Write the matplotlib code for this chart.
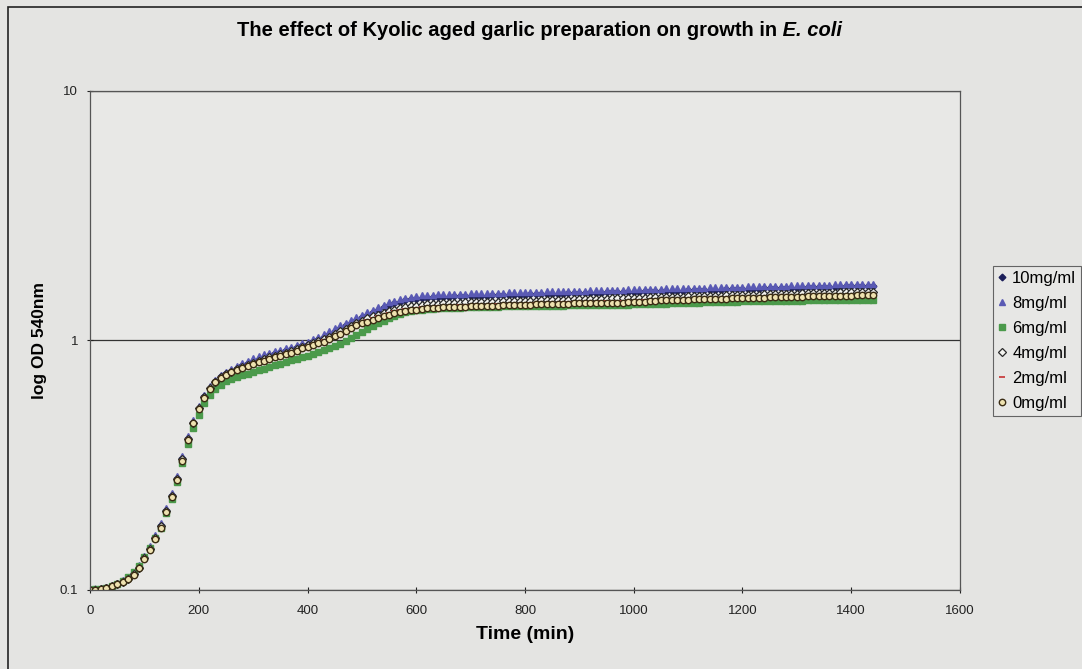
import matplotlib
matplotlib.use("Agg")
import matplotlib.pyplot as plt
from matplotlib.patches import Rectangle
import numpy as np

plt.rcParams['font.family'] = ['Liberation Sans', 'DejaVu Sans']

# sampling time (min), one reading every 10 min
time_min = list(range(0, 1450, 10))

od_10 = [0.100, 0.101, 0.101, 0.102, 0.104, 0.106, 0.109, 0.112, 0.117, 0.124,
         0.135, 0.148, 0.163, 0.182, 0.209, 0.240, 0.281, 0.338, 0.408, 0.472,
         0.538, 0.598, 0.648, 0.688, 0.718, 0.740, 0.758, 0.776, 0.794, 0.812,
         0.830, 0.845, 0.860, 0.875, 0.888, 0.900, 0.914, 0.928, 0.942, 0.957,
         0.972, 0.990, 1.010, 1.035, 1.062, 1.090, 1.120, 1.150, 1.180, 1.210,
         1.240, 1.270, 1.300, 1.330, 1.360, 1.390, 1.410, 1.430, 1.448, 1.462,
         1.472, 1.480, 1.486, 1.490, 1.494, 1.497, 1.500, 1.502, 1.504, 1.506,
         1.508, 1.510, 1.512, 1.514, 1.516, 1.518, 1.520, 1.522, 1.524, 1.526,
         1.528, 1.530, 1.532, 1.534, 1.536, 1.538, 1.540, 1.542, 1.544, 1.546,
         1.548, 1.550, 1.552, 1.554, 1.556, 1.558, 1.560, 1.562, 1.564, 1.566,
         1.568, 1.570, 1.572, 1.574, 1.576, 1.578, 1.580, 1.582, 1.584, 1.586,
         1.588, 1.590, 1.592, 1.594, 1.596, 1.598, 1.600, 1.602, 1.604, 1.606,
         1.608, 1.610, 1.612, 1.614, 1.616, 1.618, 1.620, 1.622, 1.624, 1.626,
         1.628, 1.630, 1.632, 1.634, 1.636, 1.638, 1.640, 1.642, 1.644, 1.646,
         1.648, 1.650, 1.652, 1.654, 1.656]

od_8 = [0.101, 0.101, 0.102, 0.103, 0.105, 0.107, 0.110, 0.113, 0.118, 0.126,
        0.137, 0.150, 0.166, 0.186, 0.213, 0.245, 0.287, 0.345, 0.415, 0.480,
        0.545, 0.605, 0.655, 0.695, 0.725, 0.750, 0.770, 0.790, 0.810, 0.830,
        0.850, 0.865, 0.880, 0.895, 0.905, 0.915, 0.930, 0.945, 0.960, 0.975,
        0.990, 1.010, 1.030, 1.060, 1.090, 1.120, 1.150, 1.180, 1.210, 1.240,
        1.270, 1.300, 1.330, 1.360, 1.390, 1.420, 1.440, 1.460, 1.480, 1.495,
        1.505, 1.515, 1.520, 1.525, 1.530, 1.533, 1.536, 1.538, 1.540, 1.542,
        1.544, 1.546, 1.548, 1.550, 1.552, 1.554, 1.556, 1.558, 1.560, 1.562,
        1.564, 1.566, 1.568, 1.570, 1.572, 1.574, 1.576, 1.578, 1.580, 1.582,
        1.584, 1.586, 1.588, 1.590, 1.592, 1.594, 1.596, 1.598, 1.600, 1.602,
        1.604, 1.606, 1.608, 1.610, 1.612, 1.614, 1.616, 1.618, 1.620, 1.622,
        1.624, 1.626, 1.628, 1.630, 1.632, 1.634, 1.636, 1.638, 1.640, 1.642,
        1.644, 1.646, 1.648, 1.650, 1.652, 1.654, 1.656, 1.658, 1.660, 1.662,
        1.664, 1.666, 1.668, 1.670, 1.672, 1.674, 1.676, 1.678, 1.680, 1.682,
        1.684, 1.686, 1.688, 1.690, 1.692]

od_6 = [0.100, 0.101, 0.101, 0.102, 0.104, 0.106, 0.109, 0.113, 0.118, 0.125,
        0.135, 0.147, 0.161, 0.178, 0.203, 0.232, 0.270, 0.322, 0.385, 0.445,
        0.505, 0.560, 0.605, 0.640, 0.665, 0.685, 0.700, 0.712, 0.724, 0.736,
        0.748, 0.760, 0.772, 0.784, 0.796, 0.808, 0.820, 0.832, 0.845, 0.858,
        0.870, 0.885, 0.900, 0.915, 0.930, 0.950, 0.970, 0.995, 1.020, 1.050,
        1.080, 1.110, 1.140, 1.170, 1.200, 1.230, 1.255, 1.275, 1.295, 1.310,
        1.320, 1.328, 1.335, 1.340, 1.345, 1.348, 1.350, 1.352, 1.354, 1.356,
        1.358, 1.360, 1.362, 1.364, 1.366, 1.368, 1.370, 1.371, 1.372, 1.373,
        1.374, 1.375, 1.376, 1.377, 1.378, 1.379, 1.380, 1.381, 1.382, 1.383,
        1.384, 1.385, 1.386, 1.387, 1.388, 1.389, 1.390, 1.391, 1.392, 1.393,
        1.394, 1.396, 1.398, 1.400, 1.402, 1.404, 1.406, 1.408, 1.410, 1.412,
        1.414, 1.416, 1.418, 1.420, 1.422, 1.424, 1.426, 1.428, 1.430, 1.432,
        1.434, 1.436, 1.437, 1.438, 1.439, 1.440, 1.441, 1.442, 1.443, 1.444,
        1.445, 1.446, 1.447, 1.448, 1.449, 1.450, 1.451, 1.452, 1.453, 1.454,
        1.455, 1.456, 1.457, 1.458, 1.459]

od_4 = [0.100, 0.100, 0.101, 0.102, 0.104, 0.106, 0.108, 0.111, 0.116, 0.123,
        0.134, 0.146, 0.162, 0.180, 0.207, 0.238, 0.278, 0.334, 0.404, 0.468,
        0.534, 0.594, 0.644, 0.684, 0.714, 0.735, 0.750, 0.766, 0.782, 0.798,
        0.814, 0.829, 0.842, 0.856, 0.868, 0.882, 0.895, 0.910, 0.925, 0.942,
        0.958, 0.975, 0.992, 1.010, 1.035, 1.062, 1.088, 1.115, 1.145, 1.175,
        1.200, 1.225, 1.248, 1.270, 1.292, 1.312, 1.330, 1.345, 1.358, 1.370,
        1.380, 1.388, 1.394, 1.400, 1.404, 1.408, 1.411, 1.414, 1.417, 1.420,
        1.422, 1.424, 1.426, 1.428, 1.430, 1.432, 1.434, 1.436, 1.438, 1.440,
        1.442, 1.444, 1.446, 1.448, 1.450, 1.452, 1.454, 1.456, 1.458, 1.460,
        1.462, 1.464, 1.466, 1.468, 1.470, 1.472, 1.474, 1.476, 1.478, 1.480,
        1.482, 1.484, 1.486, 1.488, 1.490, 1.492, 1.494, 1.496, 1.498, 1.500,
        1.502, 1.504, 1.506, 1.508, 1.510, 1.512, 1.514, 1.516, 1.518, 1.520,
        1.522, 1.524, 1.526, 1.528, 1.530, 1.532, 1.534, 1.536, 1.538, 1.540,
        1.542, 1.544, 1.546, 1.548, 1.550, 1.552, 1.554, 1.556, 1.558, 1.560,
        1.562, 1.564, 1.566, 1.568, 1.570]

od_2 = [0.100, 0.100, 0.101, 0.102, 0.104, 0.106, 0.108, 0.112, 0.116, 0.123,
        0.134, 0.146, 0.161, 0.179, 0.206, 0.236, 0.276, 0.332, 0.402, 0.466,
        0.532, 0.592, 0.642, 0.682, 0.712, 0.732, 0.748, 0.763, 0.778, 0.794,
        0.810, 0.824, 0.836, 0.850, 0.862, 0.876, 0.888, 0.902, 0.918, 0.936,
        0.952, 0.968, 0.984, 1.000, 1.022, 1.050, 1.074, 1.102, 1.132, 1.162,
        1.185, 1.208, 1.230, 1.250, 1.270, 1.290, 1.308, 1.320, 1.332, 1.342,
        1.350, 1.358, 1.364, 1.368, 1.372, 1.375, 1.378, 1.380, 1.382, 1.384,
        1.386, 1.388, 1.390, 1.392, 1.394, 1.396, 1.398, 1.400, 1.402, 1.404,
        1.406, 1.408, 1.410, 1.412, 1.414, 1.416, 1.418, 1.420, 1.422, 1.424,
        1.426, 1.428, 1.430, 1.432, 1.434, 1.436, 1.438, 1.440, 1.442, 1.444,
        1.446, 1.448, 1.450, 1.452, 1.454, 1.456, 1.458, 1.460, 1.462, 1.464,
        1.466, 1.468, 1.470, 1.472, 1.474, 1.476, 1.478, 1.480, 1.482, 1.484,
        1.486, 1.488, 1.490, 1.492, 1.494, 1.496, 1.498, 1.500, 1.502, 1.504,
        1.506, 1.508, 1.510, 1.512, 1.514, 1.516, 1.518, 1.520, 1.522, 1.524,
        1.526, 1.528, 1.530, 1.532, 1.534]

od_0 = [0.100, 0.100, 0.101, 0.102, 0.104, 0.106, 0.108, 0.111, 0.115, 0.122,
        0.133, 0.145, 0.160, 0.178, 0.205, 0.235, 0.275, 0.330, 0.400, 0.465,
        0.530, 0.590, 0.640, 0.680, 0.710, 0.730, 0.745, 0.760, 0.775, 0.790,
        0.805, 0.820, 0.830, 0.845, 0.855, 0.870, 0.880, 0.895, 0.910, 0.930,
        0.945, 0.960, 0.975, 0.990, 1.010, 1.040, 1.060, 1.090, 1.120, 1.150,
        1.170, 1.190, 1.210, 1.230, 1.250, 1.270, 1.290, 1.300, 1.310, 1.320,
        1.330, 1.340, 1.345, 1.350, 1.355, 1.358, 1.360, 1.362, 1.365, 1.368,
        1.370, 1.372, 1.374, 1.376, 1.378, 1.380, 1.382, 1.384, 1.386, 1.388,
        1.390, 1.392, 1.394, 1.396, 1.398, 1.400, 1.402, 1.404, 1.406, 1.408,
        1.410, 1.412, 1.413, 1.414, 1.415, 1.416, 1.417, 1.418, 1.419, 1.420,
        1.422, 1.424, 1.426, 1.440, 1.445, 1.448, 1.450, 1.452, 1.454, 1.456,
        1.458, 1.460, 1.462, 1.464, 1.466, 1.468, 1.470, 1.472, 1.474, 1.476,
        1.478, 1.480, 1.482, 1.484, 1.486, 1.488, 1.490, 1.492, 1.494, 1.496,
        1.498, 1.500, 1.502, 1.504, 1.506, 1.508, 1.510, 1.511, 1.512, 1.513,
        1.514, 1.515, 1.516, 1.517, 1.518]

labels = ['10mg/ml', '8mg/ml', '6mg/ml', '4mg/ml', '2mg/ml', '0mg/ml']
x_ticks = [0, 200, 400, 600, 800, 1000, 1200, 1400, 1600]
y_ticks = [0.1, 1, 10]
y_ticklabels = ['0.1', '1', '10']

fig = plt.figure(figsize=(10.82, 6.69), dpi=100)
fig.patch.set_facecolor('#e4e4e2')
ax = fig.add_axes([0.0832, 0.1181, 0.8040, 0.7459])
ax.set_facecolor('#e8e8e6')

# Excel style markers, no connecting lines
styles = [
    dict(marker='D', ms=3.4, mfc='#1c1f5a', mec='#1c1f5a'),
    dict(marker='^', ms=5.0, mfc='#5a5ab4', mec='#5a5ab4'),
    dict(marker='s', ms=4.2, mfc='#4b9a4b', mec='#4b9a4b'),
    dict(marker='D', ms=3.6, mfc='#f4f4f0', mec='#2a2a2a', mew=0.9),
    dict(marker='_', ms=4.5, mfc='#c84040', mec='#c84040', mew=1.3),
    dict(marker='o', ms=4.6, mfc='#eee2b0', mec='#3a2c14', mew=1.0),
]
series = [od_10, od_8, od_6, od_4, od_2, od_0]
for vals, lab, st in zip(series, labels, styles):
    ax.plot(time_min, vals, linestyle='none', label=lab, **st)

ax.set_yscale('log')
ax.set_xlim(0, 1600)
ax.set_ylim(0.1, 10)
ax.set_xticks(x_ticks)
ax.set_xticklabels([str(t) for t in x_ticks], fontsize=9.5)
ax.set_yticks(y_ticks)
ax.set_yticklabels(y_ticklabels, fontsize=9.5)
ax.yaxis.set_minor_locator(matplotlib.ticker.NullLocator())
ax.tick_params(axis='both', direction='inout', length=5, width=0.8, colors='#222222')
ax.tick_params(axis='x', pad=8)
ax.tick_params(axis='y', pad=6)
ax.yaxis.grid(True, which='major', color='#333333', linewidth=0.9)
for sp in ax.spines.values():
    sp.set_color('#555555')
    sp.set_linewidth(0.9)

ax.set_xlabel('Time (min)', fontsize=14, fontweight='bold')
ax.xaxis.set_label_coords(0.5, -0.072)
ax.set_ylabel('log OD 540nm', fontsize=12.5, fontweight='bold')
ax.yaxis.set_label_coords(-0.050, 0.5)

# title: plain bold part, then bold italic species name
title_y = 1 - 36 / 669
t1 = fig.text(237 / 1082, title_y, 'The effect of Kyolic aged garlic preparation on growth in',
              ha='left', va='baseline', fontsize=14.5, fontweight='bold')
fig.canvas.draw()
bb = t1.get_window_extent()
fig.text(bb.x1 / fig.bbox.width, title_y, ' E. coli', ha='left', va='baseline',
         fontsize=14.5, fontweight='bold', style='italic')

leg = fig.legend(loc='upper left', bbox_to_anchor=(993 / 1082, 1 - 266 / 669), fontsize=12,
                 frameon=True, fancybox=False, handlelength=0.5, handletextpad=0.35,
                 labelspacing=0.6, borderpad=0.3, borderaxespad=0, markerscale=1.0)
leg.get_frame().set_facecolor('#e8e8e6')
leg.get_frame().set_edgecolor('#444444')
leg.get_frame().set_linewidth(0.8)

# outer chart border
fig.patches.append(Rectangle((0.007, -0.01), 1.2, 1.0, transform=fig.transFigure,
                             fill=False, edgecolor='#222222', linewidth=1.2))

fig.savefig('out.png', dpi=100, facecolor=fig.get_facecolor())
